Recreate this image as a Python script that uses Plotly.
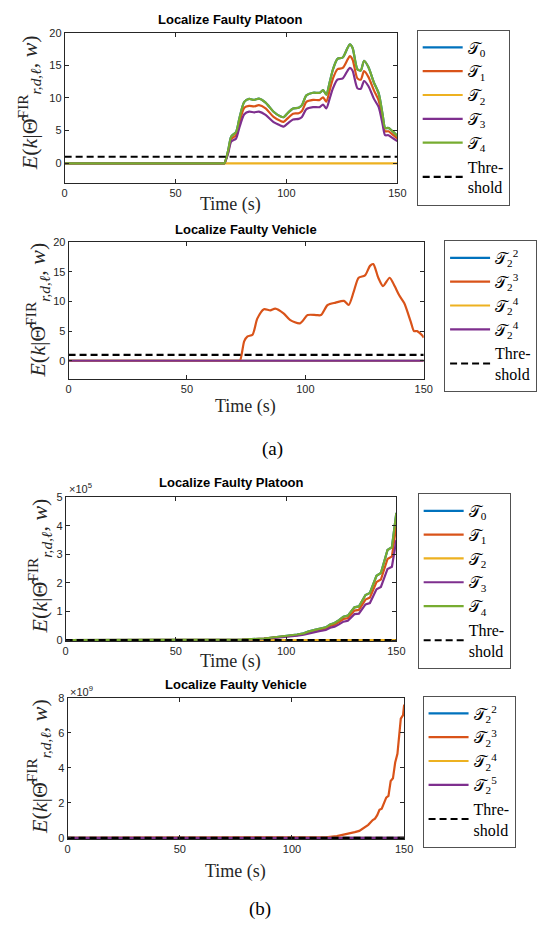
import plotly.graph_objects as go

# ---------------- data ----------------
# (a) Localize Faulty Platoon
t_a1 = [0, 20, 40, 60, 68, 70, 71, 72.0, 73.7, 75.1, 77.3, 78.8, 81.0, 83.2, 85.4, 87.6, 90.6, 94.2, 97.2, 98.7,
        100.9, 103.0, 105.5, 107.0, 109.0, 112.0, 115.0, 116.5, 118.0, 119.5, 121.0, 123.0, 125.4, 127.6,
        128.6, 129.8, 132.0, 133.5, 135.0, 137.0, 139.4, 141.6, 143.4, 144.5, 146.0, 148.2, 150.0]
a1_T4 = [0, 0, 0, 0, 0, 0, 0, 0, 1.9, 4.1, 4.8, 6.9, 9.4, 9.85, 9.7, 9.9, 9.3, 7.9, 7.2, 7.05,
         7.8, 8.4, 8.5, 8.9, 10.4, 10.8, 10.8, 11.2, 10.5, 12.4, 14.4, 16.0, 16.2, 17.7,
         18.2, 17.7, 14.4, 14.2, 15.7, 14.7, 12.4, 10.7, 7.4, 5.4, 5.4, 4.8, 4.2]
a1_T0 = list(a1_T4)
a1_T1 = [0, 0, 0, 0, 0, 0, 0, 0, 1.7, 3.7, 4.3, 6.2, 8.5, 8.8, 8.7, 8.9, 8.4, 7.1, 6.5, 6.35,
         7.0, 7.6, 7.65, 8.0, 9.4, 9.7, 9.7, 10.1, 9.45, 11.2, 13.0, 14.4, 14.6, 15.9,
         16.4, 15.9, 13.0, 12.8, 14.1, 13.2, 11.2, 9.6, 6.7, 4.9, 4.9, 4.3, 3.8]
a1_T3 = [0, 0, 0, 0, 0, 0, 0, 0, 1.5, 3.3, 3.8, 5.5, 7.5, 7.9, 7.8, 7.9, 7.4, 6.3, 5.8, 5.6,
         6.2, 6.7, 6.8, 7.1, 8.3, 8.6, 8.6, 9.0, 8.4, 9.9, 11.5, 12.8, 13.0, 14.2,
         14.6, 14.2, 11.5, 11.4, 12.6, 11.8, 9.9, 8.6, 5.9, 4.3, 4.3, 3.8, 3.4]
t_flat = [0, 150]
zeros_flat = [0, 0]
thr_v = [1, 1]

# (a) Localize Faulty Vehicle
t_a2 = [0, 20, 40, 60, 68, 70, 71.5, 72.4, 74.2, 75.6, 77.7, 79.7, 82.5, 85.2, 87.3, 90.8, 93.5, 97.7,
        101.0, 104.6, 106.6, 109.4, 112.8, 116.3, 118.3, 120.4, 122.5, 125.2, 127.3, 128.7, 130.8,
        132.8, 135.6, 137.7, 139.7, 141.8, 144.5, 145.9, 147.2, 149.3, 150.0]
a2_T23 = [0, 0, 0, 0, 0, 0, 0, 0, 3.3, 4.1, 4.4, 7.1, 8.7, 8.5, 8.8, 8.0, 6.9, 6.3,
          7.7, 7.7, 7.7, 9.4, 9.8, 10.1, 9.4, 11.6, 14.0, 14.4, 16.0, 16.3, 14.0,
          12.6, 14.0, 12.6, 11.0, 9.7, 6.6, 5.0, 5.0, 4.3, 3.9]

# (b) Localize Faulty Platoon
t_b1 = [0, 70, 80, 90, 95, 100, 105, 108, 110, 113, 115, 118, 120, 122, 124, 126, 128, 130, 131,
        133, 135, 136, 138, 140, 141, 143, 145, 146, 148, 149, 150]
b1_T4 = [0, 0, 0.02e5, 0.06e5, 0.1e5, 0.14e5, 0.2e5, 0.24e5, 0.3e5, 0.36e5, 0.4e5, 0.45e5, 0.55e5,
         0.6e5, 0.7e5, 0.82e5, 0.86e5, 1.05e5, 1.15e5, 1.18e5, 1.45e5, 1.58e5, 1.65e5, 2.05e5,
         2.25e5, 2.35e5, 2.9e5, 3.15e5, 3.25e5, 3.8e5, 4.45e5]
b1_T0 = list(b1_T4)
b1_T1 = [0, 0, 0.018e5, 0.054e5, 0.09e5, 0.126e5, 0.18e5, 0.216e5, 0.27e5, 0.324e5, 0.36e5, 0.405e5,
         0.495e5, 0.54e5, 0.63e5, 0.74e5, 0.77e5, 0.945e5, 1.035e5, 1.06e5, 1.3e5, 1.42e5, 1.49e5,
         1.85e5, 2.03e5, 2.12e5, 2.61e5, 2.84e5, 2.93e5, 3.42e5, 4.0e5]
b1_T3 = [0, 0, 0.016e5, 0.047e5, 0.079e5, 0.11e5, 0.158e5, 0.19e5, 0.237e5, 0.284e5, 0.316e5, 0.356e5,
         0.435e5, 0.474e5, 0.553e5, 0.648e5, 0.68e5, 0.83e5, 0.91e5, 0.93e5, 1.15e5, 1.25e5, 1.3e5,
         1.62e5, 1.78e5, 1.86e5, 2.29e5, 2.49e5, 2.57e5, 3.0e5, 3.5e5]

# (b) Localize Faulty Vehicle
t_b2 = [0, 110, 115, 120, 125, 128, 130, 132, 134, 136, 137, 138, 139, 140, 141, 142, 143, 144,
        145, 146, 147, 148, 148.5, 149.5, 150]
b2_T23 = [0, 0.01e9, 0.04e9, 0.1e9, 0.22e9, 0.33e9, 0.4e9, 0.56e9, 0.75e9, 1.02e9, 1.1e9, 1.3e9,
          1.6e9, 1.67e9, 1.95e9, 2.3e9, 2.4e9, 3.25e9, 3.4e9, 4.3e9, 4.8e9, 5.95e9, 6.8e9, 7.0e9, 7.6e9]

x_ticks = [0, 50, 100, 150]
y_ticks_a = [0, 5, 10, 15, 20]
y_ticks_b1 = [0, 1e5, 2e5, 3e5, 4e5, 5e5]
y_tick_text_b1 = ["0", "1", "2", "3", "4", "5"]
y_ticks_b2 = [0, 2e9, 4e9, 6e9, 8e9]
y_tick_text_b2 = ["0", "2", "4", "6", "8"]

names_platoon = ["𝒯<sub>0</sub>", "𝒯<sub>1</sub>", "𝒯<sub>2</sub>", "𝒯<sub>3</sub>", "𝒯<sub>4</sub>"]
names_vehicle_a = ["𝒯<sub>2</sub><sup>2</sup>", "𝒯<sub>2</sub><sup>3</sup>",
                   "𝒯<sub>2</sub><sup>4</sup>", "𝒯<sub>2</sub><sup>4</sup>"]
names_vehicle_b = ["𝒯<sub>2</sub><sup>2</sup>", "𝒯<sub>2</sub><sup>3</sup>",
                   "𝒯<sub>2</sub><sup>4</sup>", "𝒯<sub>2</sub><sup>5</sup>"]
thr_name = "Thre-<br>shold"

# ---------------- style ----------------
W, H = 557, 926
C = ["#0072BD", "#D95319", "#EDB120", "#7E2F8E", "#77AC30"]
AX = "#262626"
LW = 2.2

def dx(l, r):
    return [l / W, r / W]

def dy(top, bot):
    return [1 - bot / H, 1 - top / H]

fig = go.Figure()

def add(xs, ys, color, name, axis, legend, dash=None, shape="spline"):
    line = dict(color=color, width=LW, dash=dash, shape=shape)
    if shape == "spline":
        line["smoothing"] = 0.7
    fig.add_trace(go.Scatter(
        x=xs, y=ys, mode="lines", name=name, line=line,
        xaxis="x" + axis, yaxis="y" + axis, legend=legend, showlegend=True))

DASH = "7px,4px"
# panel 1
add(t_a1, a1_T0, C[0], names_platoon[0], "", "legend")
add(t_a1, a1_T1, C[1], names_platoon[1], "", "legend")
add(t_flat, zeros_flat, C[2], names_platoon[2], "", "legend", shape="linear")
add(t_a1, a1_T3, C[3], names_platoon[3], "", "legend")
add(t_a1, a1_T4, C[4], names_platoon[4], "", "legend")
add(t_flat, thr_v, "black", thr_name, "", "legend", dash=DASH, shape="linear")

# panel 2
add(t_flat, zeros_flat, C[0], names_vehicle_a[0], "2", "legend2", shape="linear")
add(t_a2, a2_T23, C[1], names_vehicle_a[1], "2", "legend2")
add(t_flat, zeros_flat, C[2], names_vehicle_a[2], "2", "legend2", shape="linear")
add(t_flat, zeros_flat, C[3], names_vehicle_a[3], "2", "legend2", shape="linear")
add(t_flat, thr_v, "black", thr_name, "2", "legend2", dash=DASH, shape="linear")

# panel 3
add(t_b1, b1_T0, C[0], names_platoon[0], "3", "legend3", shape="linear")
add(t_b1, b1_T1, C[1], names_platoon[1], "3", "legend3", shape="linear")
add(t_flat, zeros_flat, C[2], names_platoon[2], "3", "legend3", shape="linear")
add(t_b1, b1_T3, C[3], names_platoon[3], "3", "legend3", shape="linear")
add(t_b1, b1_T4, C[4], names_platoon[4], "3", "legend3", shape="linear")
add(t_flat, thr_v, "black", thr_name, "3", "legend3", dash=DASH, shape="linear")

# panel 4
add(t_flat, zeros_flat, C[0], names_vehicle_b[0], "4", "legend4", shape="linear")
add(t_b2, b2_T23, C[1], names_vehicle_b[1], "4", "legend4", shape="linear")
add(t_flat, zeros_flat, C[2], names_vehicle_b[2], "4", "legend4", shape="linear")
add(t_flat, zeros_flat, C[3], names_vehicle_b[3], "4", "legend4", shape="linear")
add(t_flat, thr_v, "black", thr_name, "4", "legend4", dash=DASH, shape="linear")

tickfont = dict(family="Liberation Sans, Arial, sans-serif", size=11, color=AX)

def xax(dom, anchor):
    return dict(domain=dom, anchor=anchor, range=[0, 150], tickvals=x_ticks,
                showline=True, linecolor=AX, linewidth=0.8, mirror="ticks",
                ticks="inside", ticklen=4, tickcolor=AX, tickwidth=0.8,
                tickfont=tickfont, showgrid=False, zeroline=False)

def yax(dom, anchor, rng, tv, tt=None):
    d = dict(domain=dom, anchor=anchor, range=rng, tickvals=tv,
             showline=True, linecolor=AX, linewidth=0.8, mirror="ticks",
             ticks="inside", ticklen=4, tickcolor=AX, tickwidth=0.8,
             tickfont=tickfont, showgrid=False, zeroline=False)
    if tt is not None:
        d["ticktext"] = tt
    return d

legend_style = dict(bgcolor="white", bordercolor=AX, borderwidth=0.8,
                    font=dict(family="Liberation Serif, Times New Roman, serif", size=16, color="black"),
                    xanchor="left", yanchor="top", tracegroupgap=0, itemwidth=40,
                    traceorder="normal")

fig.update_layout(
    width=W, height=H, margin=dict(l=0, r=0, t=0, b=0),
    paper_bgcolor="white", plot_bgcolor="white",
    xaxis=xax(dx(63, 403), "y"),
    yaxis=yax(dy(27, 179), "x", [-3, 20], y_ticks_a),
    xaxis2=xax(dx(67, 430), "y2"),
    yaxis2=yax(dy(239, 377), "x2", [-3, 20], y_ticks_a),
    xaxis3=xax(dx(64, 402), "y3"),
    yaxis3=yax(dy(497, 643), "x3", [-4000, 5e5], y_ticks_b1, y_tick_text_b1),
    xaxis4=xax(dx(66, 410), "y4"),
    yaxis4=yax(dy(700, 843), "x4", [-0.06e9, 8e9], y_ticks_b2, y_tick_text_b2),
    legend=dict(x=423 / W, y=1 - 24 / H, **legend_style),
    legend2=dict(x=451 / W, y=1 - 237 / H, **legend_style),
    legend3=dict(x=424 / W, y=1 - 493 / H, **legend_style),
    legend4=dict(x=429 / W, y=1 - 698 / H, **legend_style),
)

serif = "Liberation Serif, Times New Roman, serif"
title_font = dict(family="Liberation Sans, Arial, sans-serif", size=13, color="black")
ytitle = "<i>E</i>(<i>k</i>|Θ̂<sup>FIR</sup><sub><i>r,d,ℓ</i></sub>, <i>w</i>)"

anns = []
def ann(text, x, y, font, angle=0, xanchor="center"):
    anns.append(dict(text=text, x=x / W, y=1 - y / H, xref="paper", yref="paper",
                     showarrow=False, font=font, textangle=angle, xanchor=xanchor, yanchor="middle"))

# titles
ann("<b>Localize Faulty Platoon</b>", 233, 13.5, title_font)
ann("<b>Localize Faulty Vehicle</b>", 248, 226, title_font)
ann("<b>Localize Faulty Platoon</b>", 233.5, 482, title_font)
ann("<b>Localize Faulty Vehicle</b>", 238, 687, title_font)
# x titles
xt_font = dict(family=serif, size=18, color=AX)
ann("Time (s)", 233, 201, xt_font)
ann("Time (s)", 248, 405, xt_font)
ann("Time (s)", 233, 663, xt_font)
ann("Time (s)", 238, 876, xt_font)
# y titles
yt_font = dict(family=serif, size=22, color=AX)
ann(ytitle, 27, 98, yt_font, angle=-90)
ann(ytitle, 35, 308, yt_font, angle=-90)
ann(ytitle, 37, 567, yt_font, angle=-90)
ann(ytitle, 37, 770, yt_font, angle=-90)
# exponents
ex_font = dict(family="Liberation Sans, Arial, sans-serif", size=11, color=AX)
ann("×10<sup>5</sup>", 65, 488, ex_font, xanchor="left")
ann("×10<sup>9</sup>", 66, 693, ex_font, xanchor="left")
# sub-figure labels
lab_font = dict(family=serif, size=19, color="black")
ann("(a)", 275, 448, lab_font)
ann("(b)", 263, 914, lab_font)

fig.update_layout(annotations=anns)
fig.write_html("out.html")
